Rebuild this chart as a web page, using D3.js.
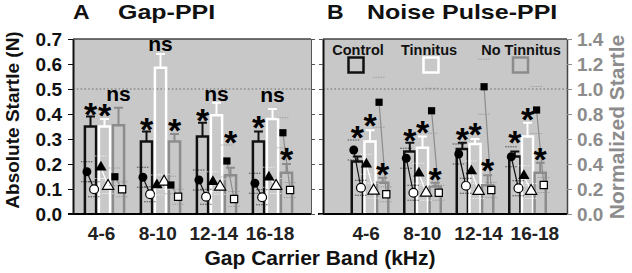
<!DOCTYPE html>
<html><head><meta charset="utf-8">
<script src="https://cdn.jsdelivr.net/npm/d3@7"></script>
<style>body{margin:0;background:#fff}svg{display:block}</style>
</head><body>
<svg id="c" width="632" height="273"></svg>
<script>
// ---------- DATA ----------
const groups = ["4-6", "8-10", "12-14", "16-18"];
const series = ["Control", "Tinnitus", "No Tinnitus"];
const yAbsTicks = [0, 0.1, 0.2, 0.3, 0.4, 0.5, 0.6, 0.7];
const yNormTicks = [0, 0.2, 0.4, 0.6, 0.8, 1.0, 1.2, 1.4];

// Panel A (Gap-PPI): normalized startle bars (mean, sem)
const gapCtrlBar = [0.70, 0.58, 0.62, 0.58];
const gapTinBar  = [0.70, 1.17, 0.79, 0.76];
const gapNoTBar  = [0.71, 0.58, 0.31, 0.33];
const gapCtrlErr = [0.08, 0.08, 0.11, 0.08];
const gapTinErr  = [0.06, 0.11, 0.10, 0.08];
const gapNoTErr  = [0.14, 0.06, 0.06, 0.07];
// Panel A absolute startle (N): startle alone (filled) / with prepulse (open)
const gapCtrlPre  = [0.169, 0.147, 0.136, 0.123];
const gapTinPre   = [0.187, 0.116, 0.129, 0.147];
const gapNoTPre   = [0.149, 0.116, 0.212, 0.325];
const gapCtrlPost = [0.099, 0.079, 0.069, 0.067];
const gapTinPost  = [0.112, 0.129, 0.109, 0.112];
const gapNoTPost  = [0.099, 0.069, 0.060, 0.096];
const gapCtrlPreSem  = [0.040, 0.040, 0.040, 0.040];
const gapTinPreSem   = [0.045, 0.040, 0.040, 0.040];
const gapNoTPreSem   = [0.035, 0.035, 0.064, 0.060];
const gapCtrlPostSem = [0.030, 0.030, 0.030, 0.030];
const gapTinPostSem  = [0.030, 0.030, 0.030, 0.030];
const gapNoTPostSem  = [0.030, 0.030, 0.030, 0.030];
// Panel A significance labels and their level (normalized units)
const gapCtrlSig = ["*", "*", "*", "*"];
const gapTinSig  = ["*", "ns", "ns", "ns"];
const gapNoTSig  = ["ns", "*", "*", "*"];
const gapCtrlSigY = [0.86, 0.74, 0.81, 0.75];
const gapTinSigY  = [0.85, 1.35, 0.95, 0.94];
const gapNoTSigY  = [0.95, 0.73, 0.63, 0.50];

// Panel B (Noise Pulse-PPI)
const nzCtrlBar = [0.42, 0.50, 0.52, 0.46];
const nzTinBar  = [0.58, 0.53, 0.56, 0.62];
const nzNoTBar  = [0.25, 0.22, 0.23, 0.33];
const nzCtrlErr = [0.04, 0.07, 0.05, 0.04];
const nzTinErr  = [0.09, 0.09, 0.04, 0.11];
const nzNoTErr  = [0.04, 0.03, 0.08, 0.08];
const nzCtrlPre  = [0.256, 0.223, 0.240, 0.229];
const nzTinPre   = [0.199, 0.163, 0.172, 0.153];
const nzNoTPre   = [0.447, 0.413, 0.509, 0.416];
const nzCtrlPost = [0.105, 0.085, 0.113, 0.103];
const nzTinPost  = [0.093, 0.085, 0.092, 0.092];
const nzNoTPost  = [0.079, 0.085, 0.096, 0.116];
const nzCtrlPreSem  = [0.040, 0.040, 0.040, 0.040];
const nzTinPreSem   = [0.040, 0.040, 0.040, 0.040];
const nzNoTPreSem   = [0.100, 0.090, 0.110, 0.094];
const nzCtrlPostSem = [0.030, 0.030, 0.030, 0.030];
const nzTinPostSem  = [0.030, 0.030, 0.030, 0.030];
const nzNoTPostSem  = [0.030, 0.030, 0.030, 0.030];
const nzCtrlSig = ["*", "*", "*", "*"];
const nzTinSig  = ["*", "*", "*", "*"];
const nzNoTSig  = ["*", "*", "*", "*"];
const nzCtrlSigY = [0.67, 0.65, 0.66, 0.63];
const nzTinSigY  = [0.77, 0.71, 0.70, 0.82];
const nzNoTSigY  = [0.38, 0.34, 0.41, 0.50];

// ---------- LAYOUT / STYLE ----------
const FONT = "'Liberation Sans', Arial, Helvetica, sans-serif";
const BG = "#c8c8c8";
const GRAY = "#8c8c8c";
const seriesColor = {"Control": "#111", "Tinnitus": "#fff", "No Tinnitus": GRAY};
const seriesShape = {"Control": d3.symbolCircle, "Tinnitus": d3.symbolTriangle, "No Tinnitus": d3.symbolSquare};
const seriesSize = {"Control": 62, "Tinnitus": 56, "No Tinnitus": 52};
const TOP = 39, BOTTOM = 214;

const svg = d3.select("#c");
const yAbs = d3.scaleLinear().domain([0, 0.7]).range([BOTTOM, TOP]);
const yNorm = d3.scaleLinear().domain([0, 1.4]).range([BOTTOM, TOP]);

const panels = [
  {
    left: 73, right: 311, groupRange: [76.5, 300.5], inner: [-21, 21], pi: 0.2, po: 0.1,
    labelRange: [73.5, 298],
    bars: [gapCtrlBar, gapTinBar, gapNoTBar], errs: [gapCtrlErr, gapTinErr, gapNoTErr],
    pre: [gapCtrlPre, gapTinPre, gapNoTPre], post: [gapCtrlPost, gapTinPost, gapNoTPost],
    preSem: [gapCtrlPreSem, gapTinPreSem, gapNoTPreSem], postSem: [gapCtrlPostSem, gapTinPostSem, gapNoTPostSem],
    sig: [gapCtrlSig, gapTinSig, gapNoTSig], sigY: [gapCtrlSigY, gapTinSigY, gapNoTSigY],
    letter: "A", letterX: 73, title: "Gap-PPI", titleX: 118
  },
  {
    left: 323, right: 567, groupRange: [343.75, 553.75], inner: [-19, 19], pi: 0.12, po: 0.06,
    labelRange: [338, 563],
    bars: [nzCtrlBar, nzTinBar, nzNoTBar], errs: [nzCtrlErr, nzTinErr, nzNoTErr],
    pre: [nzCtrlPre, nzTinPre, nzNoTPre], post: [nzCtrlPost, nzTinPost, nzNoTPost],
    preSem: [nzCtrlPreSem, nzTinPreSem, nzNoTPreSem], postSem: [nzCtrlPostSem, nzTinPostSem, nzNoTPostSem],
    sig: [nzCtrlSig, nzTinSig, nzNoTSig], sigY: [nzCtrlSigY, nzTinSigY, nzNoTSigY],
    letter: "B", letterX: 327, title: "Noise Pulse-PPI", titleX: 367
  }
];

panels.forEach((p, pi) => {
  const g = svg.append("g");
  const x0 = d3.scaleBand().domain(groups).range(p.groupRange);
  const x1 = d3.scaleBand().domain(series).range(p.inner).paddingInner(p.pi).paddingOuter(p.po);
  const xl = d3.scaleBand().domain(groups).range(p.labelRange);
  const cx = (gr, s) => x0(gr) + x0.bandwidth() / 2 + x1(s) + x1.bandwidth() / 2;

  // background
  g.append("rect").attr("x", p.left).attr("y", TOP).attr("width", p.right - p.left)
    .attr("height", BOTTOM - TOP).attr("fill", BG);
  // dotted reference line at normalized 1.0
  g.append("line").attr("x1", p.left).attr("x2", p.right)
    .attr("y1", yNorm(1.0)).attr("y2", yNorm(1.0))
    .attr("stroke", GRAY).attr("stroke-width", 1.6).attr("stroke-dasharray", "1.6,2.2");

  series.forEach((s, si) => {
    const col = seriesColor[s];
    groups.forEach((gr, gi) => {
      const c = cx(gr, s);
      const bw = x1.bandwidth();
      const v = p.bars[si][gi], e = p.errs[si][gi];
      // bar outline
      g.append("path")
        .attr("d", `M${c - bw / 2},${BOTTOM}V${yNorm(v)}H${c + bw / 2}V${BOTTOM}`)
        .attr("fill", "none").attr("stroke", col).attr("stroke-width", 2.5);
      // error bar
      g.append("line").attr("x1", c).attr("x2", c).attr("y1", yNorm(v)).attr("y2", yNorm(v + e))
        .attr("stroke", col).attr("stroke-width", 2);
      g.append("line").attr("x1", c - 4.5).attr("x2", c + 4.5).attr("y1", yNorm(v + e)).attr("y2", yNorm(v + e))
        .attr("stroke", col).attr("stroke-width", 2);
    });
  });

  // absolute startle markers
  series.forEach((s, si) => {
    const col = seriesColor[s];
    groups.forEach((gr, gi) => {
      const c = cx(gr, s);
      const xa = c - 3.6, xb = c + 3.6;
      const va = p.pre[si][gi], vb = p.post[si][gi];
      const sa = p.preSem[si][gi], sb = p.postSem[si][gi];
      // sem dashes
      [[xa, va + sa], [xa, va - sa], [xb, vb + sb], [xb, vb - sb]].forEach(([xx, yy]) => {
        g.append("line").attr("x1", xx - 6).attr("x2", xx + 6).attr("y1", yAbs(yy)).attr("y2", yAbs(yy))
          .attr("stroke", col).attr("stroke-width", 0.9).attr("stroke-dasharray", "1.5,1").attr("opacity", 0.75);
      });
      // connector
      g.append("line").attr("x1", xa).attr("x2", xb).attr("y1", yAbs(va)).attr("y2", yAbs(vb))
        .attr("stroke", col).attr("stroke-width", 1.2);
      const sym = d3.symbol().type(seriesShape[s]).size(seriesSize[s]);
      g.append("path").attr("d", sym()).attr("transform", `translate(${xa},${yAbs(va)})`)
        .attr("fill", "#000");
      g.append("path").attr("d", sym()).attr("transform", `translate(${xb},${yAbs(vb)})`)
        .attr("fill", "#fff").attr("stroke", "#000").attr("stroke-width", 1.2);
    });
  });

  // significance labels
  series.forEach((s, si) => {
    groups.forEach((gr, gi) => {
      const c = cx(gr, s);
      const lab = p.sig[si][gi];
      const yy = yNorm(p.sigY[si][gi]);
      if (lab === "*") {
        g.append("text").attr("x", c).attr("y", yy + 19).attr("text-anchor", "middle")
          .attr("font-family", FONT).attr("font-weight", "bold").attr("font-size", 34).text("*");
      } else {
        g.append("text").attr("x", c).attr("y", yy + 5.5).attr("text-anchor", "middle")
          .attr("font-family", FONT).attr("font-weight", "bold").attr("font-size", 21).text(lab);
      }
    });
  });

  // frame lines
  g.append("line").attr("x1", p.left).attr("x2", p.right).attr("y1", TOP).attr("y2", TOP)
    .attr("stroke", "#444").attr("stroke-width", 1.5);
  g.append("line").attr("x1", p.left - 5).attr("x2", p.right).attr("y1", BOTTOM).attr("y2", BOTTOM)
    .attr("stroke", "#000").attr("stroke-width", 2);

  // x labels
  groups.forEach(gr => {
    g.append("text").attr("x", xl(gr) + xl.bandwidth() / 2).attr("y", 240).attr("text-anchor", "middle")
      .attr("font-family", FONT).attr("font-weight", "bold").attr("font-size", 19).attr("fill", "#222").text(gr);
  });

  // titles (horizontally stretched as in the reference)
  g.append("text").attr("transform", `translate(${p.letterX},19) scale(1.15,1)`).attr("font-family", FONT)
    .attr("font-weight", "bold").attr("font-size", 20).attr("fill", "#111").text(p.letter);
  g.append("text").attr("transform", `translate(${p.titleX},19) scale(1.19,1)`).attr("font-family", FONT)
    .attr("font-weight", "bold").attr("font-size", 21).attr("fill", "#111").text(p.title);
});

// axes
const styleAxis = (sel, col, lw) => {
  sel.selectAll("text").attr("font-family", FONT).attr("font-weight", "bold").attr("font-size", 19).attr("fill", col);
  sel.selectAll("line").attr("stroke", col).attr("stroke-width", 1);
  sel.select(".domain").attr("stroke", col).attr("stroke-width", lw);
};
const axL = svg.append("g").attr("transform", "translate(73,0)")
  .call(d3.axisLeft(yAbs).tickValues(yAbsTicks).tickFormat(d3.format(".1f")).tickSize(5).tickPadding(6).tickSizeOuter(0));
styleAxis(axL, "#111", 2);
const axAr = svg.append("g").attr("transform", "translate(311,0)")
  .call(d3.axisRight(yAbs).tickValues(yAbsTicks).tickFormat("").tickSize(4).tickSizeOuter(0));
styleAxis(axAr, "#555", 1);
const axBl = svg.append("g").attr("transform", "translate(323,0)")
  .call(d3.axisLeft(yAbs).tickValues(yAbsTicks).tickFormat("").tickSize(4).tickSizeOuter(0));
styleAxis(axBl, "#111", 2);
axBl.selectAll(".tick line").attr("stroke", "#555");
const axR = svg.append("g").attr("transform", "translate(567,0)")
  .call(d3.axisRight(yNorm).tickValues(yNormTicks).tickFormat(d3.format(".1f")).tickSize(5).tickPadding(5).tickSizeOuter(0));
styleAxis(axR, GRAY, 1.5);
axR.select(".domain").attr("stroke", "#444");

// legend (panel B)
const legTextX = {"Control": 358, "Tinnitus": 429, "No Tinnitus": 521};
series.forEach(s => {
  svg.append("text").attr("x", legTextX[s]).attr("y", 55).attr("text-anchor", "middle")
    .attr("font-family", FONT).attr("font-weight", "bold").attr("font-size", 14.5).attr("fill", "#111").text(s);
});
const legBoxX = {"Control": 356, "Tinnitus": 431, "No Tinnitus": 520.5};
series.forEach(s => {
  svg.append("rect").attr("x", legBoxX[s] - 7.5).attr("y", 57.5).attr("width", 15).attr("height", 15)
    .attr("fill", "none").attr("stroke", seriesColor[s]).attr("stroke-width", 2.5);
});

// axis titles
svg.append("text").attr("transform", "translate(19,120) rotate(-90)").attr("text-anchor", "middle")
  .attr("font-family", FONT).attr("font-weight", "bold").attr("font-size", 19).attr("fill", "#111")
  .text("Absolute Startle (N)");
svg.append("text").attr("transform", "translate(624,127) rotate(-90)").attr("text-anchor", "middle")
  .attr("font-family", FONT).attr("font-weight", "bold").attr("font-size", 21).attr("fill", GRAY)
  .text("Normalized Startle");
svg.append("text").attr("x", 320).attr("y", 265).attr("text-anchor", "middle")
  .attr("font-family", FONT).attr("font-weight", "bold").attr("font-size", 21).attr("fill", "#111")
  .text("Gap Carrier Band (kHz)");
</script>
</body></html>
